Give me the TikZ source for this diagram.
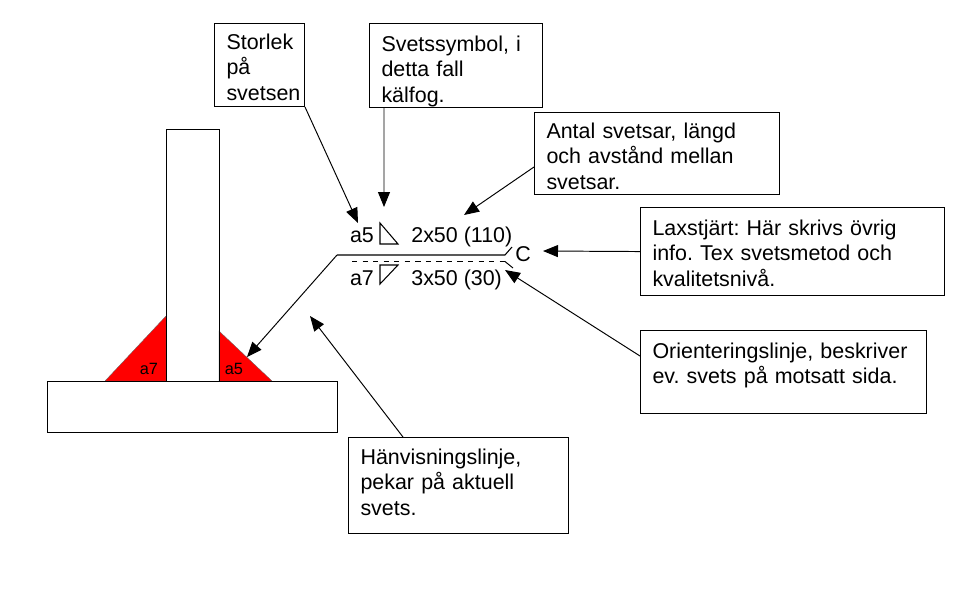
\documentclass[tikz,border=0pt]{standalone}
\usepackage{fontspec}
\setmainfont{Liberation Sans}
\usepackage{tikz}
\usetikzlibrary{arrows.meta}
\usetikzlibrary{positioning}
\frenchspacing

\begin{document}
\begin{tikzpicture}[x=0.02cm, y=-0.02cm,
			infobox/.style={draw, rectangle, anchor=north west, align=left, inner xsep=0.24cm, inner ysep=0.2cm, line width=0.6pt, font=\fontsize{12.2}{14.74}\selectfont},
			part/.style={draw, rectangle, anchor=north west, inner sep=0pt, line width=0.6pt},
			weldtext/.style={inner sep=0pt, font=\fontsize{12.2}{15}\selectfont},
			seamtext/.style={inner sep=0pt, font=\fontsize{9.3}{11}\selectfont},
			pointer/.style={->, >={Stealth[length=0.3cm, width=0.24cm, inset=0pt]}, line width=0.55pt}]
			\useasboundingbox (0,0) rectangle (975,600);
			
			\fill[red, draw=black!60, line width=0.2pt] (105,381) -- (166,316) -- (166,381) -- cycle;
			\fill[red, draw=black!60, line width=0.2pt] (219,331) -- (272,381) -- (219,381) -- cycle;
			\node[part, minimum width=1.06cm, minimum height=5.04cm](web) at (166,129) {};
			\node[part, minimum width=5.8cm, minimum height=1.02cm](plate) at (47,381) {};
			\node[seamtext](seam7) at (149,369) {a7};
			\node[seamtext](seam5) at (234,369) {a5};
			
			\node[infobox, text width=1.32cm, text depth=0.95cm](size) at (214,23) {Storlek \\ på \\ svetsen};
			\node[infobox, text width=2.98cm, inner ysep=0.24cm, text depth=0.89cm](symbol) at (369,23) {Svetssymbol, i \\ detta fall \\ kälfog.};
			\node[infobox, text width=4.42cm, text depth=0.93cm](count) at (534,112) {Antal svetsar, längd \\ och avstånd mellan \\ svetsar.};
			\node[infobox, text width=5.6cm, inner ysep=0.24cm, text depth=0.97cm](tail) at (640,207) {Laxstjärt: Här skrivs övrig \\ info. Tex svetsmetod och \\ kvalitetsnivå.};
			\node[infobox, text width=5.24cm, inner ysep=0.24cm, text depth=0.87cm](orient) at (640,330) {Orienteringslinje, beskriver \\ ev. svets på motsatt sida.};
			\node[infobox, text width=3.92cm, inner ysep=0.22cm, text depth=1.17cm](refbox) at (348,437) {Hänvisningslinje, \\ pekar på aktuell \\ svets.};
			
			\node[weldtext](a5) at (362,235) {a5};
			\node[weldtext, anchor=west](upper) at (411,237) {2x50 (110)};
			\node[weldtext](a7) at (362,278) {a7};
			\node[weldtext, anchor=west](lower) at (411,280) {3x50 (30)};
			\node[weldtext](c) at (523,254) {C};
			
			\coordinate (linestart) at (337,255);
			\coordinate (lineend) at (505,255);
			\coordinate (dashstart) at (352,261.5);
			\coordinate (dashend) at (505,261.5);
			\draw[line width=0.6pt] (linestart) -- (lineend) -- (512,247);
			\draw[dashed, line width=0.5pt] (dashstart) -- (dashend);
			\draw[line width=0.55pt] (dashend) -- (513,268);
			\draw[line width=0.6pt] (380,223) -- (380,244) -- (398,244) -- cycle;
			\draw[line width=0.6pt] (380,265) -- (380,284) -- (398,265) -- cycle;
			
			\coordinate (seamtop) at (247,357);
			\coordinate (refpoint) at (310,316);
			\draw[pointer] (linestart) -- (seamtop);
			\draw[pointer] (size.south east) -- (358,223);
			\draw[pointer] ([xshift=0.3cm]symbol.south west) -- (384,207);
			\draw[pointer] ([yshift=-1.1cm]count.north west) -- (464,215);
			\draw[pointer] (tail.west) -- (543,251);
			\draw[pointer] ([yshift=-0.52cm]orient.north west) -- (505,270);
			\draw[pointer] ([xshift=1.1cm]refbox.north west) -- (refpoint);
			\end{tikzpicture}
\end{document}
